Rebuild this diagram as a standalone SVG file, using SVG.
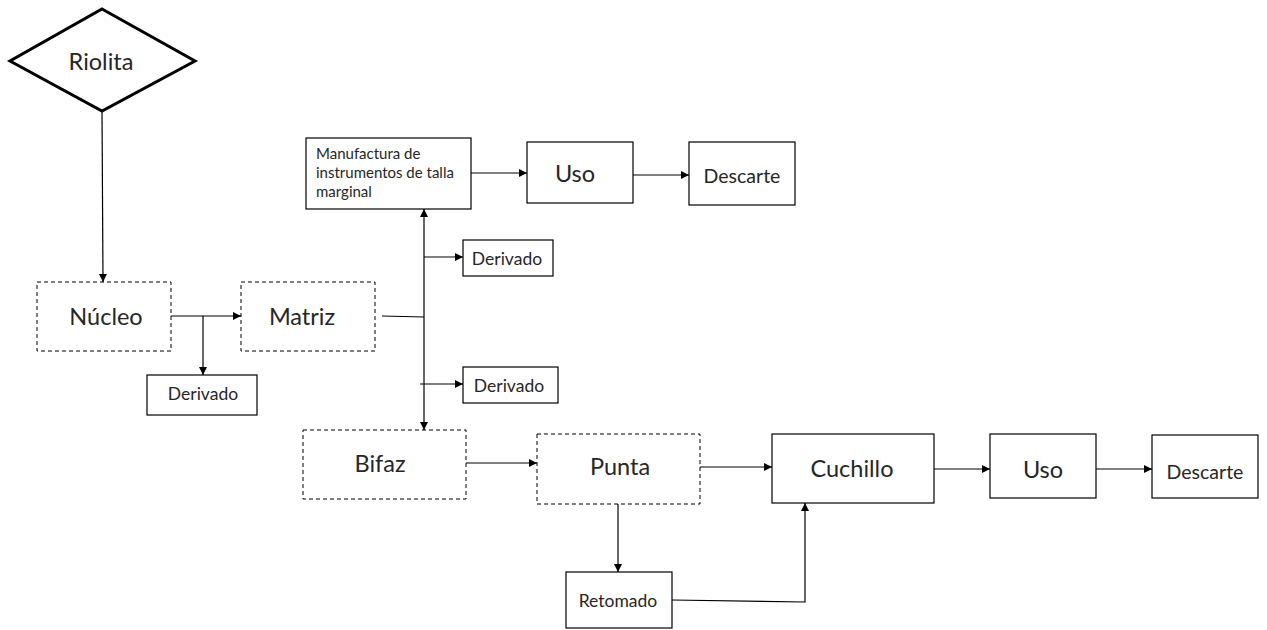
<svg xmlns="http://www.w3.org/2000/svg" width="1267" height="630" viewBox="0 0 1267 630">
  <style>
    .box { fill: #ffffff; stroke: #000000; stroke-width: 1.2; }
    .dash { fill: #ffffff; stroke: #000000; stroke-width: 1; stroke-dasharray: 4 3; }
    .dia { fill: #ffffff; stroke: #000000; stroke-width: 3; }
    .lbl { font-family: Lato, "Open Sans", sans-serif; fill: #262626; text-anchor: middle; dominant-baseline: central; }
    .big { font-size: 23.5px; }
    .mid { font-size: 19.5px; }
    .sml { font-size: 17.5px; }
    .tiny { font-family: Lato, "Open Sans", sans-serif; fill: #262626; font-size: 15px; }
    .wire { fill: none; stroke: #000000; stroke-width: 1.2; }
  </style>
  <defs>
    <marker id="arr" viewBox="0 0 10 10" refX="10" refY="5" markerWidth="8" markerHeight="8" markerUnits="userSpaceOnUse" orient="auto">
      <path d="M0,0 L10,5 L0,10 z" fill="#000000"/>
    </marker>
  </defs>
  <rect width="1267" height="630" fill="#ffffff"/>

  <!-- connectors -->
  <g id="connectors">
    <line class="wire" x1="102" y1="111" x2="103" y2="282" marker-end="url(#arr)"/>
    <line class="wire" x1="171" y1="316" x2="241" y2="316" marker-end="url(#arr)"/>
    <line class="wire" x1="203" y1="316" x2="203" y2="375" marker-end="url(#arr)"/>
    <line class="wire" x1="382" y1="316" x2="424" y2="317"/>
    <line class="wire" x1="424" y1="317" x2="424" y2="209" marker-end="url(#arr)"/>
    <line class="wire" x1="424" y1="317" x2="424" y2="430" marker-end="url(#arr)"/>
    <line class="wire" x1="424" y1="257" x2="463" y2="257" marker-end="url(#arr)"/>
    <line class="wire" x1="420" y1="384" x2="463" y2="384" marker-end="url(#arr)"/>
    <line class="wire" x1="471" y1="173" x2="527" y2="173" marker-end="url(#arr)"/>
    <line class="wire" x1="633" y1="175" x2="689" y2="175" marker-end="url(#arr)"/>
    <line class="wire" x1="466" y1="463" x2="537" y2="463" marker-end="url(#arr)"/>
    <line class="wire" x1="700" y1="467" x2="772" y2="467" marker-end="url(#arr)"/>
    <line class="wire" x1="934" y1="469" x2="990" y2="469" marker-end="url(#arr)"/>
    <line class="wire" x1="1096" y1="469" x2="1152" y2="469" marker-end="url(#arr)"/>
    <line class="wire" x1="618" y1="504" x2="618" y2="572" marker-end="url(#arr)"/>
    <polyline class="wire" points="672,600 805,602 805,503" marker-end="url(#arr)"/>
  </g>

  <g id="riolita">
    <polygon class="dia" points="102,9 195,61 102,111 10,61"/>
    <text class="lbl big" x="101" y="61">Riolita</text>
  </g>

  <g id="nucleo">
    <rect class="dash" x="37" y="282" width="134" height="69"/>
    <text class="lbl big" x="106" y="316">Núcleo</text>
  </g>

  <g id="derivado-nucleo">
    <rect class="box" x="147" y="375" width="110" height="40"/>
    <text class="lbl sml" x="203" y="393">Derivado</text>
  </g>

  <g id="matriz">
    <rect class="dash" x="241" y="282" width="134" height="69"/>
    <text class="lbl big" x="302" y="316">Matriz</text>
  </g>

  <g id="manufactura">
    <rect class="box" x="306" y="138" width="165" height="71"/>
    <text class="tiny" x="316" y="159">Manufactura de</text>
    <text class="tiny" x="316" y="178">instrumentos de talla</text>
    <text class="tiny" x="316" y="197">marginal</text>
  </g>

  <g id="uso-1">
    <rect class="box" x="527" y="142" width="106" height="61"/>
    <text class="lbl big" x="575" y="173">Uso</text>
  </g>

  <g id="descarte-1">
    <rect class="box" x="689" y="142" width="106" height="63"/>
    <text class="lbl mid" x="742" y="175">Descarte</text>
  </g>

  <g id="derivado-1">
    <rect class="box" x="463" y="240" width="90" height="36"/>
    <text class="lbl sml" x="507" y="258">Derivado</text>
  </g>

  <g id="derivado-2">
    <rect class="box" x="463" y="367" width="95" height="36"/>
    <text class="lbl sml" x="509" y="385">Derivado</text>
  </g>

  <g id="bifaz">
    <rect class="dash" x="303" y="430" width="163" height="69"/>
    <text class="lbl big" x="380" y="463">Bifaz</text>
  </g>

  <g id="punta">
    <rect class="dash" x="537" y="434" width="163" height="70"/>
    <text class="lbl big" x="620" y="466">Punta</text>
  </g>

  <g id="retomado">
    <rect class="box" x="566" y="572" width="106" height="56"/>
    <text class="lbl sml" x="618" y="600">Retomado</text>
  </g>

  <g id="cuchillo">
    <rect class="box" x="772" y="434" width="162" height="69"/>
    <text class="lbl big" x="852" y="468">Cuchillo</text>
  </g>

  <g id="uso-2">
    <rect class="box" x="990" y="434" width="106" height="64"/>
    <text class="lbl big" x="1043" y="469">Uso</text>
  </g>

  <g id="descarte-2">
    <rect class="box" x="1152" y="435" width="106" height="63"/>
    <text class="lbl mid" x="1205" y="471">Descarte</text>
  </g>
</svg>
